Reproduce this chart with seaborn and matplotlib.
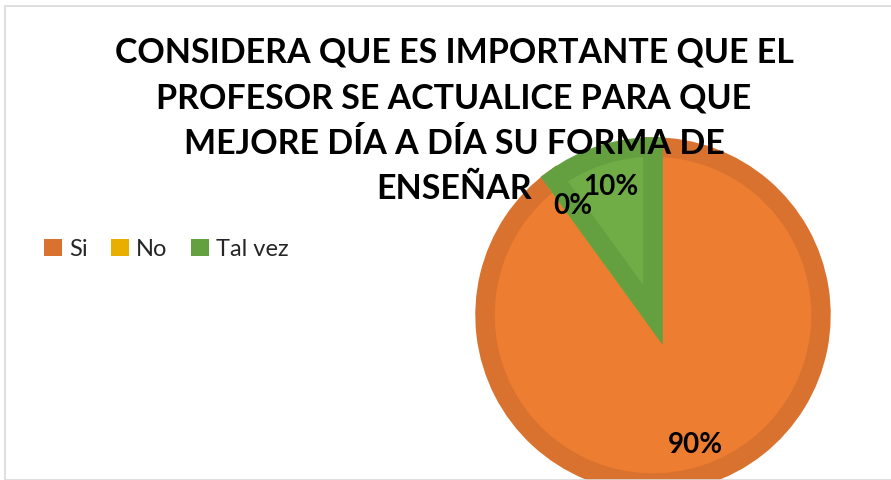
import matplotlib
matplotlib.use("Agg")
import matplotlib.pyplot as plt
from matplotlib.patches import Rectangle
import seaborn as sns

# Data
categorias = ["Si", "No", "Tal vez"]
porcentajes = [90, 0, 10]
colores = ["#ED7D31", "#FFC000", "#70AD47"]
bordes = ["#D9722E", "#E8AE00", "#64A040"]
titulo = ("CONSIDERA QUE ES IMPORTANTE QUE EL\n"
          "PROFESOR SE ACTUALICE PARA QUE\n"
          "MEJORE DÍA A DÍA SU FORMA DE\n"
          "ENSEÑAR")

sns.set_theme(style="white")
plt.rcParams["font.family"] = ["Lato", "DejaVu Sans"]

W, H = 891, 481
fig = plt.figure(figsize=(W / 100, H / 100), dpi=100)

# chart frame
fig.patches.append(Rectangle((4.5 / W, 0), 1.0, 1 - 6.5 / H, transform=fig.transFigure,
                             fill=False, edgecolor="#D9D9D9", linewidth=1.2))

# pie axes
cx, cy, r = 653, 316, 168
ax = fig.add_axes([(cx - r) / W, (H - cy - r) / H, 2 * r / W, 2 * r / H])
wedges, texts, autotexts = ax.pie(
    porcentajes, colors=colores, startangle=90, counterclock=False,
    autopct=lambda p: f"{p:.0f}%", pctdistance=0.81,
    wedgeprops=dict(linewidth=14),
    textprops=dict(fontsize=20, fontweight="bold", color="black"))
for w, b in zip(wedges, bordes):
    w.set_edgecolor(b)
    w.set_clip_path(w)  # keep the thick border inside each slice
ax.set_xlim(-1, 1)
ax.set_ylim(-1, 1)
ax.set_aspect("equal")
ax.axis("off")

# title
fig.text(454 / W, 1 - 121 / H, titulo, ha="center", va="center",
         fontsize=24.5, fontweight="bold", color="black", linespacing=1.52)

# legend
handles = [Rectangle((0, 0), 1, 1, facecolor=b, edgecolor="none") for b in bordes]
fig.legend(handles, categorias, loc="center left", bbox_to_anchor=(44 / W, 1 - 250 / H),
           ncol=3, frameon=False, fontsize=17, handlelength=0.75, handleheight=0.75,
           handletextpad=0.3, columnspacing=1.0, borderaxespad=0, borderpad=0)

fig.savefig("out.png", dpi=100)
